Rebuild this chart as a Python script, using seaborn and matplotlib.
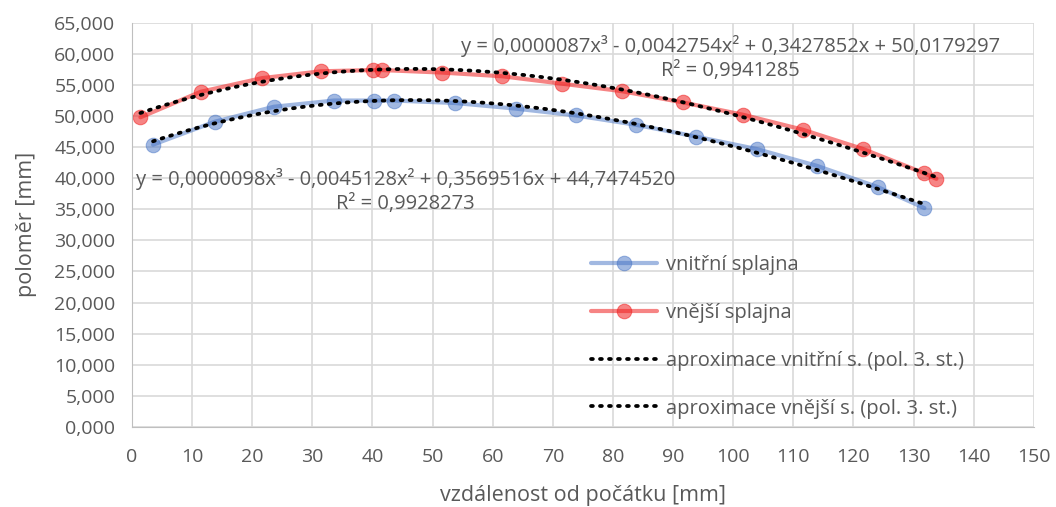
import numpy as np
import pandas as pd
import seaborn as sns
import matplotlib.pyplot as plt
from matplotlib.ticker import FuncFormatter, MultipleLocator

sns.set_style('white')
plt.rcParams['font.family'] = ['Open Sans', 'DejaVu Sans']

# vnitřní splajna (inner spline)
inner_x = [3.5, 13.8, 23.6, 33.6, 40.2, 43.6, 53.7, 63.8, 73.8, 83.8, 93.8, 103.9, 113.9, 124.0, 131.8]
inner_y = [45.4, 49.1, 51.5, 52.5, 52.5, 52.5, 52.1, 51.2, 50.1, 48.6, 46.7, 44.7, 42.0, 38.6, 35.2]

# vnější splajna (outer spline)
outer_x = [1.4, 11.4, 21.6, 31.4, 40.1, 41.6, 51.5, 61.6, 71.6, 81.5, 91.6, 101.7, 111.6, 121.6, 131.8, 133.8]
outer_y = [49.8, 53.9, 56.1, 57.2, 57.4, 57.4, 57.0, 56.4, 55.2, 54.0, 52.2, 50.2, 47.8, 44.7, 40.8, 39.9]

# trendline coefficients as printed on the chart (x^3, x^2, x, 1)
inner_coef = [0.0000098, -0.0045128, 0.3569516, 44.7474520]
inner_r2 = 0.9928273
outer_coef = [0.0000087, -0.0042754, 0.3427852, 50.0179297]
outer_r2 = 0.9941285

labels = ['vnitřní splajna', 'vnější splajna',
          'aproximace vnitřní s. (pol. 3. st.)', 'aproximace vnější s. (pol. 3. st.)']

text_col = '#595959'


def trend(xs, coef):
    xx = np.linspace(min(xs), max(xs), 200)
    return pd.DataFrame({'x': xx, 'y': np.polyval(coef, xx)})


def eq_text(coef, r2):
    def f(v):
        return f'{abs(v):.7f}'.replace('.', ',')
    s = 'y = ' + f(coef[0]) + 'x³'
    for v, p in zip(coef[1:], ['x²', 'x', '']):
        s += (' - ' if v < 0 else ' + ') + f(v) + p
    return s + '\nR² = ' + f(r2)


fig, ax = plt.subplots(figsize=(10.56, 5.07), dpi=100)
fig.subplots_adjust(left=0.125, right=0.979, bottom=0.158, top=0.955)

sns.lineplot(x=inner_x, y=inner_y, ax=ax, color='#4472C4', alpha=0.5, lw=3,
             marker='o', markersize=10.5, markeredgecolor='#4472C4', label=labels[0])
sns.lineplot(x=outer_x, y=outer_y, ax=ax, color='#F02020', alpha=0.55, lw=3,
             marker='o', markersize=10.5, markeredgecolor='#F02020', label=labels[1])

t_in = trend(inner_x, inner_coef)
t_out = trend(outer_x, outer_coef)
dots = (0, (0.5, 1.9))
sns.lineplot(data=t_in, x='x', y='y', ax=ax, color='black', lw=2.7,
             linestyle=dots, dash_capstyle='round', label=labels[2])
sns.lineplot(data=t_out, x='x', y='y', ax=ax, color='black', lw=2.7,
             linestyle=dots, dash_capstyle='round', label=labels[3])

ax.text(99.5, 59.3, eq_text(outer_coef, outer_r2), ha='center', va='center',
        fontsize=14.5, color=text_col, linespacing=1.28)
ax.text(45.5, 37.9, eq_text(inner_coef, inner_r2), ha='center', va='center',
        fontsize=14.5, color=text_col, linespacing=1.28)

ax.set_xlim(0, 150)
ax.set_ylim(0, 65)
ax.xaxis.set_major_locator(MultipleLocator(10))
ax.yaxis.set_major_locator(MultipleLocator(5))
ax.yaxis.set_major_formatter(FuncFormatter(lambda v, p: f'{v:.3f}'.replace('.', ',')))
ax.grid(True, color='#d9d9d9', lw=1.2)
ax.set_axisbelow(True)
for side in ['top', 'right']:
    ax.spines[side].set_visible(False)
for side in ['left', 'bottom']:
    ax.spines[side].set_color('#bfbfbf')
ax.tick_params(axis='both', colors=text_col, labelsize=14, length=0)
ax.tick_params(axis='x', pad=15)
ax.tick_params(axis='y', pad=12)

ax.set_xlabel('vzdálenost od počátku [mm]', fontsize=15.5, color=text_col, labelpad=14)
ax.set_ylabel('poloměr [mm]', fontsize=15.5, color=text_col, labelpad=12)

leg = ax.legend(loc='upper left', bbox_to_anchor=(0.5, 0.445), frameon=False,
                fontsize=14.5, labelcolor=text_col, labelspacing=1.38,
                handlelength=3.3, handletextpad=0.45, borderaxespad=0)

fig.savefig('out.png', dpi=100)
